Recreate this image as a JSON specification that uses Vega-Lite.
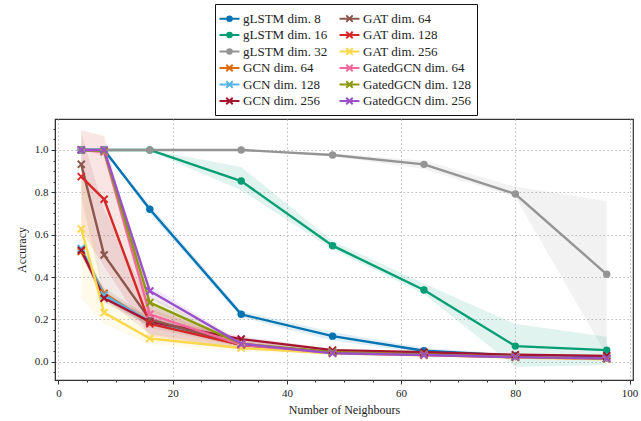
{
  "$schema": "https://vega.github.io/schema/vega-lite/v6.json",
  "width": 578,
  "height": 261,
  "autosize": {"type": "none"},
  "padding": {"left": 55, "top": 119, "right": 8, "bottom": 41},
  "background": "white",
  "config": {
    "view": {"stroke": "#333333", "strokeWidth": 1.2},
    "font": "Liberation Serif, DejaVu Serif, serif",
    "axis": {
      "labelFont": "Liberation Serif, DejaVu Serif, serif",
      "labelFontSize": 11,
      "labelColor": "#222222",
      "titleFont": "Liberation Serif, DejaVu Serif, serif",
      "titleFontSize": 12,
      "titleFontWeight": "normal",
      "titleColor": "#222222",
      "domainColor": "#333333",
      "tickColor": "#333333",
      "gridColor": "#b5b5b5",
      "gridDash": [1.5, 2.5],
      "gridWidth": 0.9
    },
    "legend": {
      "orient": "none",
      "legendX": 160,
      "legendY": -115,
      "columns": 2,
      "columnPadding": 7,
      "rowPadding": 0.5,
      "padding": 6,
      "strokeColor": "#111111",
      "cornerRadius": 0,
      "fillColor": "white",
      "labelFont": "Liberation Serif, DejaVu Serif, serif",
      "labelFontSize": 13,
      "labelColor": "#222222",
      "labelOffset": 5,
      "symbolSize": 225,
      "symbolStrokeWidth": 2,
      "symbolOpacity": 1,
      "symbolLimit": 20
    }
  },
  "data": {
    "values": [
      {"m": "gLSTM dim. 8", "x": 4, "y": 1.0, "lo": 1.0, "hi": 1.0},
      {"m": "gLSTM dim. 8", "x": 8, "y": 1.0, "lo": 1.0, "hi": 1.0},
      {"m": "gLSTM dim. 8", "x": 16, "y": 0.72, "lo": 0.70, "hi": 0.74},
      {"m": "gLSTM dim. 8", "x": 32, "y": 0.224, "lo": 0.21, "hi": 0.24},
      {"m": "gLSTM dim. 8", "x": 48, "y": 0.121, "lo": 0.10, "hi": 0.14},
      {"m": "gLSTM dim. 8", "x": 64, "y": 0.052, "lo": 0.04, "hi": 0.065},
      {"m": "gLSTM dim. 8", "x": 80, "y": 0.028, "lo": 0.018, "hi": 0.038},
      {"m": "gLSTM dim. 8", "x": 96, "y": 0.018, "lo": 0.008, "hi": 0.028},

      {"m": "gLSTM dim. 16", "x": 4, "y": 1.0, "lo": 1.0, "hi": 1.0},
      {"m": "gLSTM dim. 16", "x": 8, "y": 1.0, "lo": 1.0, "hi": 1.0},
      {"m": "gLSTM dim. 16", "x": 16, "y": 1.0, "lo": 0.995, "hi": 1.0},
      {"m": "gLSTM dim. 16", "x": 32, "y": 0.853, "lo": 0.81, "hi": 0.92},
      {"m": "gLSTM dim. 16", "x": 48, "y": 0.548, "lo": 0.53, "hi": 0.57},
      {"m": "gLSTM dim. 16", "x": 64, "y": 0.339, "lo": 0.32, "hi": 0.37},
      {"m": "gLSTM dim. 16", "x": 80, "y": 0.074, "lo": -0.024, "hi": 0.178},
      {"m": "gLSTM dim. 16", "x": 96, "y": 0.055, "lo": -0.016, "hi": 0.118},

      {"m": "gLSTM dim. 32", "x": 4, "y": 1.0, "lo": 1.0, "hi": 1.0},
      {"m": "gLSTM dim. 32", "x": 8, "y": 1.0, "lo": 1.0, "hi": 1.0},
      {"m": "gLSTM dim. 32", "x": 16, "y": 1.0, "lo": 1.0, "hi": 1.0},
      {"m": "gLSTM dim. 32", "x": 32, "y": 1.0, "lo": 1.0, "hi": 1.0},
      {"m": "gLSTM dim. 32", "x": 48, "y": 0.976, "lo": 0.97, "hi": 0.982},
      {"m": "gLSTM dim. 32", "x": 64, "y": 0.932, "lo": 0.91, "hi": 0.95},
      {"m": "gLSTM dim. 32", "x": 80, "y": 0.792, "lo": 0.778, "hi": 0.826},
      {"m": "gLSTM dim. 32", "x": 96, "y": 0.413, "lo": 0.03, "hi": 0.759},

      {"m": "GCN dim. 64", "x": 4, "y": 0.52, "lo": 0.50, "hi": 0.54},
      {"m": "GCN dim. 64", "x": 8, "y": 0.323, "lo": 0.30, "hi": 0.35},
      {"m": "GCN dim. 64", "x": 16, "y": 0.185, "lo": 0.16, "hi": 0.21},
      {"m": "GCN dim. 64", "x": 32, "y": 0.08, "lo": 0.07, "hi": 0.09},
      {"m": "GCN dim. 64", "x": 48, "y": 0.045, "lo": 0.04, "hi": 0.05},
      {"m": "GCN dim. 64", "x": 64, "y": 0.035, "lo": 0.03, "hi": 0.04},
      {"m": "GCN dim. 64", "x": 80, "y": 0.022, "lo": 0.018, "hi": 0.026},
      {"m": "GCN dim. 64", "x": 96, "y": 0.015, "lo": 0.01, "hi": 0.02},

      {"m": "GCN dim. 128", "x": 4, "y": 0.535, "lo": 0.51, "hi": 0.56},
      {"m": "GCN dim. 128", "x": 8, "y": 0.315, "lo": 0.29, "hi": 0.34},
      {"m": "GCN dim. 128", "x": 16, "y": 0.19, "lo": 0.17, "hi": 0.21},
      {"m": "GCN dim. 128", "x": 32, "y": 0.08, "lo": 0.07, "hi": 0.09},
      {"m": "GCN dim. 128", "x": 48, "y": 0.045, "lo": 0.04, "hi": 0.05},
      {"m": "GCN dim. 128", "x": 64, "y": 0.036, "lo": 0.03, "hi": 0.042},
      {"m": "GCN dim. 128", "x": 80, "y": 0.023, "lo": 0.018, "hi": 0.028},
      {"m": "GCN dim. 128", "x": 96, "y": 0.016, "lo": 0.011, "hi": 0.021},

      {"m": "GCN dim. 256", "x": 4, "y": 0.527, "lo": 0.50, "hi": 0.55},
      {"m": "GCN dim. 256", "x": 8, "y": 0.30, "lo": 0.28, "hi": 0.32},
      {"m": "GCN dim. 256", "x": 16, "y": 0.19, "lo": 0.17, "hi": 0.21},
      {"m": "GCN dim. 256", "x": 32, "y": 0.107, "lo": 0.095, "hi": 0.12},
      {"m": "GCN dim. 256", "x": 48, "y": 0.055, "lo": 0.048, "hi": 0.062},
      {"m": "GCN dim. 256", "x": 64, "y": 0.045, "lo": 0.04, "hi": 0.05},
      {"m": "GCN dim. 256", "x": 80, "y": 0.033, "lo": 0.028, "hi": 0.038},
      {"m": "GCN dim. 256", "x": 96, "y": 0.028, "lo": 0.023, "hi": 0.033},

      {"m": "GAT dim. 64", "x": 4, "y": 0.932, "lo": 0.78, "hi": 1.08},
      {"m": "GAT dim. 64", "x": 8, "y": 0.504, "lo": 0.30, "hi": 0.72},
      {"m": "GAT dim. 64", "x": 16, "y": 0.20, "lo": 0.13, "hi": 0.27},
      {"m": "GAT dim. 64", "x": 32, "y": 0.08, "lo": 0.06, "hi": 0.10},
      {"m": "GAT dim. 64", "x": 48, "y": 0.045, "lo": 0.035, "hi": 0.055},
      {"m": "GAT dim. 64", "x": 64, "y": 0.036, "lo": 0.03, "hi": 0.045},
      {"m": "GAT dim. 64", "x": 80, "y": 0.022, "lo": 0.015, "hi": 0.03},
      {"m": "GAT dim. 64", "x": 96, "y": 0.014, "lo": 0.008, "hi": 0.02},

      {"m": "GAT dim. 128", "x": 4, "y": 0.874, "lo": 0.62, "hi": 1.094},
      {"m": "GAT dim. 128", "x": 8, "y": 0.767, "lo": 0.45, "hi": 1.066},
      {"m": "GAT dim. 128", "x": 16, "y": 0.18, "lo": 0.12, "hi": 0.25},
      {"m": "GAT dim. 128", "x": 32, "y": 0.08, "lo": 0.06, "hi": 0.10},
      {"m": "GAT dim. 128", "x": 48, "y": 0.045, "lo": 0.035, "hi": 0.055},
      {"m": "GAT dim. 128", "x": 64, "y": 0.035, "lo": 0.028, "hi": 0.042},
      {"m": "GAT dim. 128", "x": 80, "y": 0.022, "lo": 0.016, "hi": 0.028},
      {"m": "GAT dim. 128", "x": 96, "y": 0.015, "lo": 0.009, "hi": 0.021},

      {"m": "GAT dim. 256", "x": 4, "y": 0.627, "lo": 0.30, "hi": 0.95},
      {"m": "GAT dim. 256", "x": 8, "y": 0.232, "lo": 0.18, "hi": 0.32},
      {"m": "GAT dim. 256", "x": 16, "y": 0.11, "lo": 0.08, "hi": 0.14},
      {"m": "GAT dim. 256", "x": 32, "y": 0.065, "lo": 0.05, "hi": 0.08},
      {"m": "GAT dim. 256", "x": 48, "y": 0.04, "lo": 0.032, "hi": 0.048},
      {"m": "GAT dim. 256", "x": 64, "y": 0.03, "lo": 0.024, "hi": 0.036},
      {"m": "GAT dim. 256", "x": 80, "y": 0.02, "lo": 0.015, "hi": 0.025},
      {"m": "GAT dim. 256", "x": 96, "y": 0.012, "lo": 0.007, "hi": 0.017},

      {"m": "GatedGCN dim. 64", "x": 4, "y": 1.0, "lo": 1.0, "hi": 1.0},
      {"m": "GatedGCN dim. 64", "x": 8, "y": 0.99, "lo": 0.97, "hi": 1.0},
      {"m": "GatedGCN dim. 64", "x": 16, "y": 0.224, "lo": 0.18, "hi": 0.27},
      {"m": "GatedGCN dim. 64", "x": 32, "y": 0.08, "lo": 0.07, "hi": 0.09},
      {"m": "GatedGCN dim. 64", "x": 48, "y": 0.042, "lo": 0.036, "hi": 0.048},
      {"m": "GatedGCN dim. 64", "x": 64, "y": 0.032, "lo": 0.027, "hi": 0.037},
      {"m": "GatedGCN dim. 64", "x": 80, "y": 0.022, "lo": 0.017, "hi": 0.027},
      {"m": "GatedGCN dim. 64", "x": 96, "y": 0.014, "lo": 0.009, "hi": 0.019},

      {"m": "GatedGCN dim. 128", "x": 4, "y": 1.0, "lo": 1.0, "hi": 1.0},
      {"m": "GatedGCN dim. 128", "x": 8, "y": 0.995, "lo": 0.985, "hi": 1.0},
      {"m": "GatedGCN dim. 128", "x": 16, "y": 0.279, "lo": 0.24, "hi": 0.31},
      {"m": "GatedGCN dim. 128", "x": 32, "y": 0.085, "lo": 0.075, "hi": 0.095},
      {"m": "GatedGCN dim. 128", "x": 48, "y": 0.045, "lo": 0.039, "hi": 0.051},
      {"m": "GatedGCN dim. 128", "x": 64, "y": 0.034, "lo": 0.029, "hi": 0.039},
      {"m": "GatedGCN dim. 128", "x": 80, "y": 0.023, "lo": 0.018, "hi": 0.028},
      {"m": "GatedGCN dim. 128", "x": 96, "y": 0.015, "lo": 0.01, "hi": 0.02},

      {"m": "GatedGCN dim. 256", "x": 4, "y": 1.0, "lo": 1.0, "hi": 1.0},
      {"m": "GatedGCN dim. 256", "x": 8, "y": 1.0, "lo": 1.0, "hi": 1.0},
      {"m": "GatedGCN dim. 256", "x": 16, "y": 0.334, "lo": 0.30, "hi": 0.36},
      {"m": "GatedGCN dim. 256", "x": 32, "y": 0.085, "lo": 0.075, "hi": 0.095},
      {"m": "GatedGCN dim. 256", "x": 48, "y": 0.04, "lo": 0.034, "hi": 0.046},
      {"m": "GatedGCN dim. 256", "x": 64, "y": 0.032, "lo": 0.027, "hi": 0.037},
      {"m": "GatedGCN dim. 256", "x": 80, "y": 0.022, "lo": 0.017, "hi": 0.027},
      {"m": "GatedGCN dim. 256", "x": 96, "y": 0.016, "lo": 0.011, "hi": 0.021}
    ]
  },
  "resolve": {"axis": {"x": "independent", "y": "independent"}},
  "layer": [
    {
      "mark": {"type": "area", "opacity": 0.12},
      "encoding": {
        "x": {"field": "x", "type": "quantitative",
              "scale": {"domain": [-0.6, 100.6], "nice": false, "zero": false},
              "axis": {"orient": "bottom", "values": [0,5,10,15,20,25,30,35,40,45,50,55,60,65,70,75,80,85,90,95,100], "labels": false, "grid": false, "domain": false, "tickSize": 2, "title": null}},
        "y": {"field": "lo", "type": "quantitative",
              "scale": {"domain": [-0.086, 1.146], "nice": false, "zero": false},
              "axis": {"orient": "left", "values": [-0.05,0,0.05,0.1,0.15,0.2,0.25,0.3,0.35,0.4,0.45,0.5,0.55,0.6,0.65,0.7,0.75,0.8,0.85,0.9,0.95,1.0,1.05,1.1], "labels": false, "grid": false, "domain": false, "tickSize": 2, "title": null}},
        "y2": {"field": "hi"},
        "color": {
          "field": "m", "type": "nominal",
          "scale": {
            "domain": ["gLSTM dim. 8", "gLSTM dim. 16", "gLSTM dim. 32", "GCN dim. 64", "GCN dim. 128", "GCN dim. 256", "GAT dim. 64", "GAT dim. 128", "GAT dim. 256", "GatedGCN dim. 64", "GatedGCN dim. 128", "GatedGCN dim. 256"],
            "range": ["#0173b2", "#029e73", "#949494", "#de6a10", "#56b4e9", "#a2142f", "#8c564b", "#d62728", "#fbd84b", "#f2689d", "#8a9a0b", "#9b4fc9"]
          },
          "legend": {"title": null}
        }
      }
    },
    {
      "mark": {"type": "line", "strokeWidth": 2.4},
      "encoding": {
        "x": {"field": "x", "type": "quantitative",
              "axis": {"orient": "bottom", "values": [0,20,40,60,80,100], "grid": true, "tickSize": 4, "labelPadding": 3, "title": "Number of Neighbours", "titlePadding": 6}},
        "y": {"field": "y", "type": "quantitative",
              "axis": {"orient": "left", "values": [0,0.2,0.4,0.6,0.8,1.0], "grid": true, "format": ".1f", "tickSize": 4, "labelPadding": 3, "title": "Accuracy", "titlePadding": 6}},
        "color": {"field": "m", "type": "nominal", "legend": {"title": null}}
      }
    },
    {
      "transform": [{"filter": "indexof(datum.m,'gLSTM')==0"}],
      "mark": {"type": "point", "shape": "circle", "filled": true, "size": 55, "opacity": 1},
      "encoding": {
        "x": {"field": "x", "type": "quantitative", "axis": null},
        "y": {"field": "y", "type": "quantitative", "axis": null},
        "color": {"field": "m", "type": "nominal", "legend": {"title": null}}
      }
    },
    {
      "transform": [{"filter": "indexof(datum.m,'gLSTM')!=0"}],
      "mark": {"type": "point", "shape": "M-1,-1L1,1M-1,1L1,-1", "filled": false, "size": 50, "strokeWidth": 2, "opacity": 1},
      "encoding": {
        "x": {"field": "x", "type": "quantitative", "axis": null},
        "y": {"field": "y", "type": "quantitative", "axis": null},
        "color": {"field": "m", "type": "nominal", "legend": {"title": null}}
      }
    },
    {
      "mark": {"type": "point", "filled": false, "opacity": 0, "strokeWidth": 2},
      "encoding": {
        "x": {"field": "x", "type": "quantitative", "axis": null},
        "y": {"field": "y", "type": "quantitative", "axis": null},
        "color": {"field": "m", "type": "nominal", "legend": {"title": null}},
        "shape": {
          "field": "m", "type": "nominal",
          "scale": {
            "domain": ["gLSTM dim. 8", "gLSTM dim. 16", "gLSTM dim. 32", "GCN dim. 64", "GCN dim. 128", "GCN dim. 256", "GAT dim. 64", "GAT dim. 128", "GAT dim. 256", "GatedGCN dim. 64", "GatedGCN dim. 128", "GatedGCN dim. 256"],
            "range": [
              "M-1.33,0H1.33M0.3,0A0.3,0.3,0,1,1,-0.3,0A0.3,0.3,0,1,1,0.3,0M0.15,0A0.15,0.15,0,1,1,-0.15,0A0.15,0.15,0,1,1,0.15,0",
              "M-1.33,0H1.33M0.3,0A0.3,0.3,0,1,1,-0.3,0A0.3,0.3,0,1,1,0.3,0M0.15,0A0.15,0.15,0,1,1,-0.15,0A0.15,0.15,0,1,1,0.15,0",
              "M-1.33,0H1.33M0.3,0A0.3,0.3,0,1,1,-0.3,0A0.3,0.3,0,1,1,0.3,0M0.15,0A0.15,0.15,0,1,1,-0.15,0A0.15,0.15,0,1,1,0.15,0",
              "M-1.33,0H1.33M-0.43,-0.43L0.43,0.43M-0.43,0.43L0.43,-0.43",
              "M-1.33,0H1.33M-0.43,-0.43L0.43,0.43M-0.43,0.43L0.43,-0.43",
              "M-1.33,0H1.33M-0.43,-0.43L0.43,0.43M-0.43,0.43L0.43,-0.43",
              "M-1.33,0H1.33M-0.43,-0.43L0.43,0.43M-0.43,0.43L0.43,-0.43",
              "M-1.33,0H1.33M-0.43,-0.43L0.43,0.43M-0.43,0.43L0.43,-0.43",
              "M-1.33,0H1.33M-0.43,-0.43L0.43,0.43M-0.43,0.43L0.43,-0.43",
              "M-1.33,0H1.33M-0.43,-0.43L0.43,0.43M-0.43,0.43L0.43,-0.43",
              "M-1.33,0H1.33M-0.43,-0.43L0.43,0.43M-0.43,0.43L0.43,-0.43",
              "M-1.33,0H1.33M-0.43,-0.43L0.43,0.43M-0.43,0.43L0.43,-0.43"
            ]
          },
          "legend": {"title": null}
        }
      }
    }
  ]
}
